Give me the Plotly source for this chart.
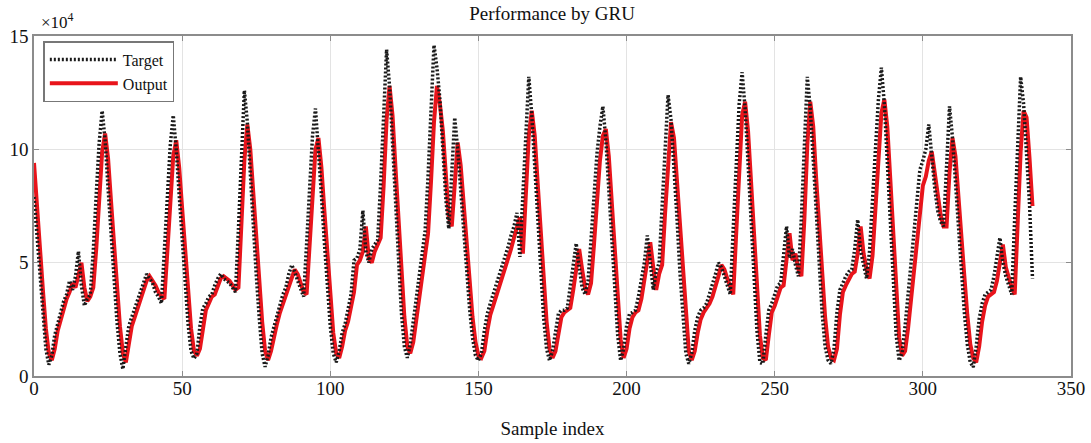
import plotly.graph_objects as go

# Sample index 0..337, values in units of 10^4
target = [
    7.9, 6.2, 4.4, 2.6, 1.2, 0.5, 0.9, 1.8, 2.3, 2.8,
    3.3, 3.6, 4.2, 3.8, 4.4, 5.5, 4.0, 3.1, 3.4, 3.6,
    5.5, 8.0, 10.3, 11.7, 10.4, 8.3, 6.2, 4.2, 2.4, 1.0,
    0.3, 1.3, 2.2, 2.6, 3.0, 3.3, 3.8, 4.2, 4.5, 4.3,
    4.1, 3.7, 3.5, 3.2, 5.5, 8.0, 10.2, 11.5, 10.0, 8.0,
    6.0, 4.0, 2.3, 1.1, 0.77, 1.0, 2.2, 3.0, 3.2, 3.5,
    3.6, 4.0, 4.3, 4.5, 4.3, 4.2, 4.1, 3.9, 3.7, 6.5,
    10.0, 12.6, 11.2, 8.8, 6.6, 4.5, 2.6, 1.0, 0.4, 0.9,
    1.7, 2.2, 2.7, 3.1, 3.6, 3.9, 4.5, 4.9, 4.6, 4.2,
    3.8, 3.5, 5.8, 8.5, 10.6, 11.8, 10.1, 8.0, 5.9, 3.9,
    2.2, 1.0, 0.6, 1.1, 1.9, 2.3, 2.9, 3.6, 5.1, 5.2,
    5.6, 7.3, 5.5, 5.0, 5.6, 5.8, 6.0, 8.5, 11.8, 14.4,
    12.8, 10.2, 7.6, 5.0, 2.8, 1.3, 0.8, 1.4, 2.5, 3.5,
    4.4, 5.4, 6.4, 8.8, 11.6, 14.6, 13.6, 12.2, 10.0, 7.8,
    6.5, 9.0, 11.4, 10.0, 8.2, 6.4, 4.6, 3.0, 1.7, 0.9,
    0.68, 1.0, 2.0, 2.75, 3.2, 3.6, 4.0, 4.5, 4.9, 5.25,
    5.7, 6.2, 6.6, 7.2, 5.25, 8.0, 11.0, 13.2, 11.5, 9.2,
    6.8, 4.5, 2.6, 1.2, 0.68, 1.1, 2.0, 2.75, 2.9, 2.9,
    3.0, 3.9, 5.0, 5.85, 4.8, 3.9, 3.6, 4.2, 6.0, 8.0,
    9.8, 11.0, 11.9, 10.4, 8.2, 5.9, 3.7, 1.8, 0.68, 1.2,
    2.2, 2.75, 2.8, 2.9, 3.5, 4.3, 5.0, 6.2, 5.0, 3.8,
    4.6, 5.0, 7.5, 10.0, 12.4, 11.3, 9.3, 7.0, 4.6, 2.5,
    1.0, 0.54, 1.0, 2.0, 2.6, 2.9, 3.0, 3.2, 3.6, 4.0,
    4.5, 5.0, 4.8, 4.4, 4.0, 3.6, 6.5, 9.5, 12.0, 13.4,
    11.8, 9.4, 6.8, 4.2, 2.0, 0.6, 0.54, 1.8, 2.9, 3.2,
    3.6, 4.0, 4.1, 5.5, 6.6, 5.2, 5.6, 4.9, 4.4, 7.0,
    10.5, 13.2, 11.8, 9.4, 7.0, 4.7, 2.8, 1.3, 0.7, 0.54,
    1.2, 2.8, 3.8, 4.1, 4.4, 4.6, 4.7, 5.6, 6.9, 5.5,
    4.8, 4.3, 5.5, 7.5, 10.0, 12.2, 13.6, 12.0, 9.4, 6.7,
    4.0, 1.8, 0.68, 1.0, 2.2, 3.6, 5.0, 6.4, 7.8, 9.1,
    9.5, 10.0, 11.1, 9.5, 8.3, 7.3, 6.8, 6.6, 9.5, 11.9,
    10.5, 8.6, 6.6, 4.6, 2.8, 1.4, 0.6, 0.39, 1.3, 2.5,
    3.2, 3.6, 3.7, 3.8, 4.4, 5.2, 6.1, 5.0, 4.4, 4.0,
    3.6, 7.0, 10.5, 13.2, 12.0, 10.0, 7.6, 4.3,
]

output = [
    9.4, 7.4, 5.6, 3.8, 2.1, 1.0, 0.7, 1.2, 2.0, 2.5,
    3.0, 3.4, 3.7, 4.1, 3.9, 4.4, 5.0, 3.9, 3.3, 3.5,
    3.9, 5.6, 7.9, 9.9, 10.7, 9.6, 7.7, 5.8, 3.9, 2.2,
    1.0, 0.6, 1.4, 2.2, 2.6, 3.0, 3.3, 3.8, 4.2, 4.4,
    4.2, 4.0, 3.7, 3.5, 3.4, 5.4, 7.8, 9.7, 10.4, 9.2,
    7.4, 5.5, 3.7, 2.1, 1.1, 0.9, 1.2, 2.2, 2.9, 3.2,
    3.5, 3.6, 4.0, 4.3, 4.4, 4.3, 4.2, 4.0, 3.8, 3.9,
    6.4, 9.5, 11.1, 10.0, 8.1, 6.1, 4.2, 2.4, 1.1, 0.7,
    1.1, 1.8, 2.3, 2.8, 3.2, 3.6, 3.9, 4.4, 4.7, 4.5,
    4.1, 3.7, 3.6, 5.6, 8.1, 10.0, 10.5, 9.2, 7.3, 5.3,
    3.5, 1.9, 1.0, 0.8, 1.3, 2.0, 2.4, 3.0, 3.7, 4.9,
    5.1, 5.5, 6.6, 5.2, 5.0, 5.5, 5.8, 6.1, 8.4, 11.3,
    12.8, 11.5, 9.2, 6.9, 4.6, 2.6, 1.3, 1.0, 1.5, 2.5,
    3.4, 4.3, 5.3, 6.3, 8.6, 11.2, 12.8, 12.0, 10.8, 8.8,
    7.0, 6.6, 8.7, 10.3, 9.3, 7.5, 5.8, 4.1, 2.6, 1.5,
    0.9, 0.8, 1.1, 2.0, 2.7, 3.1, 3.5, 3.9, 4.4, 4.8,
    5.2, 5.6, 6.1, 6.5, 7.0, 5.4, 7.8, 10.6, 11.7, 10.6,
    8.5, 6.3, 4.2, 2.4, 1.2, 0.8, 1.1, 1.9, 2.6, 2.8,
    2.9, 3.0, 3.8, 4.8, 5.6, 4.7, 3.9, 3.6, 4.1, 5.8,
    7.7, 9.5, 10.6, 10.9, 9.7, 7.6, 5.4, 3.3, 1.6, 0.8,
    1.2, 2.1, 2.6, 2.8, 2.9, 3.4, 4.2, 4.9, 5.9, 4.8,
    3.8, 4.5, 4.9, 7.2, 9.6, 11.2, 10.5, 8.6, 6.5, 4.3,
    2.4, 1.1, 0.7, 1.1, 1.9, 2.5, 2.8, 3.0, 3.2, 3.5,
    3.9, 4.4, 4.9, 4.7, 4.3, 3.9, 3.6, 6.3, 9.2, 11.5,
    12.1, 10.8, 8.6, 6.2, 3.8, 1.8, 0.8, 0.7, 1.8, 2.8,
    3.1, 3.5, 3.9, 4.0, 5.3, 6.3, 5.1, 5.4, 4.7, 4.4,
    6.9, 10.2, 12.1, 11.0, 8.7, 6.5, 4.4, 2.6, 1.3, 0.8,
    0.7, 1.2, 2.7, 3.7, 4.0, 4.3, 4.5, 4.6, 5.4, 6.6,
    5.4, 4.7, 4.3, 5.3, 7.3, 9.7, 11.6, 12.2, 11.0, 8.7,
    6.2, 3.7, 1.7, 0.9, 1.1, 2.1, 3.4, 4.8, 6.2, 7.5,
    8.4, 8.8, 9.5, 9.9, 9.0, 8.0, 7.1, 6.6, 6.6, 9.0,
    10.5, 9.7, 8.1, 6.2, 4.4, 2.7, 1.4, 0.8, 0.6, 1.3,
    2.4, 3.1, 3.5, 3.6, 3.7, 4.2, 5.0, 5.8, 4.8, 4.3,
    3.9, 3.6, 6.7, 9.9, 11.7, 11.4, 9.6, 7.5,
]

sample_index = list(range(len(target)))

x_ticks = [0, 50, 100, 150, 200, 250, 300, 350]
y_ticks = [0, 5, 10, 15]

FONT = "Liberation Serif, Times New Roman, serif"

fig = go.Figure()
fig.add_trace(go.Scatter(
    x=sample_index, y=output, mode="lines", name="Output",
    line=dict(color="#e8141b", width=4), legendrank=2,
))
fig.add_trace(go.Scatter(
    x=sample_index, y=target, mode="lines", name="Target",
    line=dict(color="#1a1a1a", width=3.5, dash="2px,2px"), legendrank=1,
))

axis_common = dict(
    showline=True, linecolor="#8c8c8c", linewidth=1.5, mirror="ticks",
    ticks="inside", ticklen=5, tickcolor="#8c8c8c",
    showgrid=True, gridcolor="#e3e3e3", gridwidth=1,
    zeroline=False, automargin=False,
    tickfont=dict(family=FONT, size=19, color="#111"),
)

fig.update_xaxes(
    range=[0, 350], tickvals=x_ticks, ticklabelstandoff=-6, **axis_common,
    title=dict(text="Sample index", font=dict(family=FONT, size=19, color="#111"), standoff=24),
)
fig.update_yaxes(range=[0, 15], tickvals=y_ticks, **axis_common)

fig.update_layout(
    width=1091, height=443,
    margin=dict(l=34, r=20, t=36, b=67),
    paper_bgcolor="white", plot_bgcolor="white",
    title=dict(text="Performance by GRU", x=0.506, xanchor="center", y=0.985, yanchor="top",
               font=dict(family=FONT, size=19, color="#111")),
    legend=dict(x=0.009, y=0.985, xanchor="left", yanchor="top",
                bordercolor="#777", borderwidth=1.5, bgcolor="white",
                font=dict(family=FONT, size=16, color="#111"),
                tracegroupgap=2, itemwidth=68),
    showlegend=True,
    annotations=[dict(text="×10<sup>4</sup>", xref="paper", yref="paper",
                      x=0.005, y=1.0, xanchor="left", yanchor="bottom", yshift=2,
                      showarrow=False, font=dict(family=FONT, size=17, color="#111"))],
)

fig.write_html("out.html")
